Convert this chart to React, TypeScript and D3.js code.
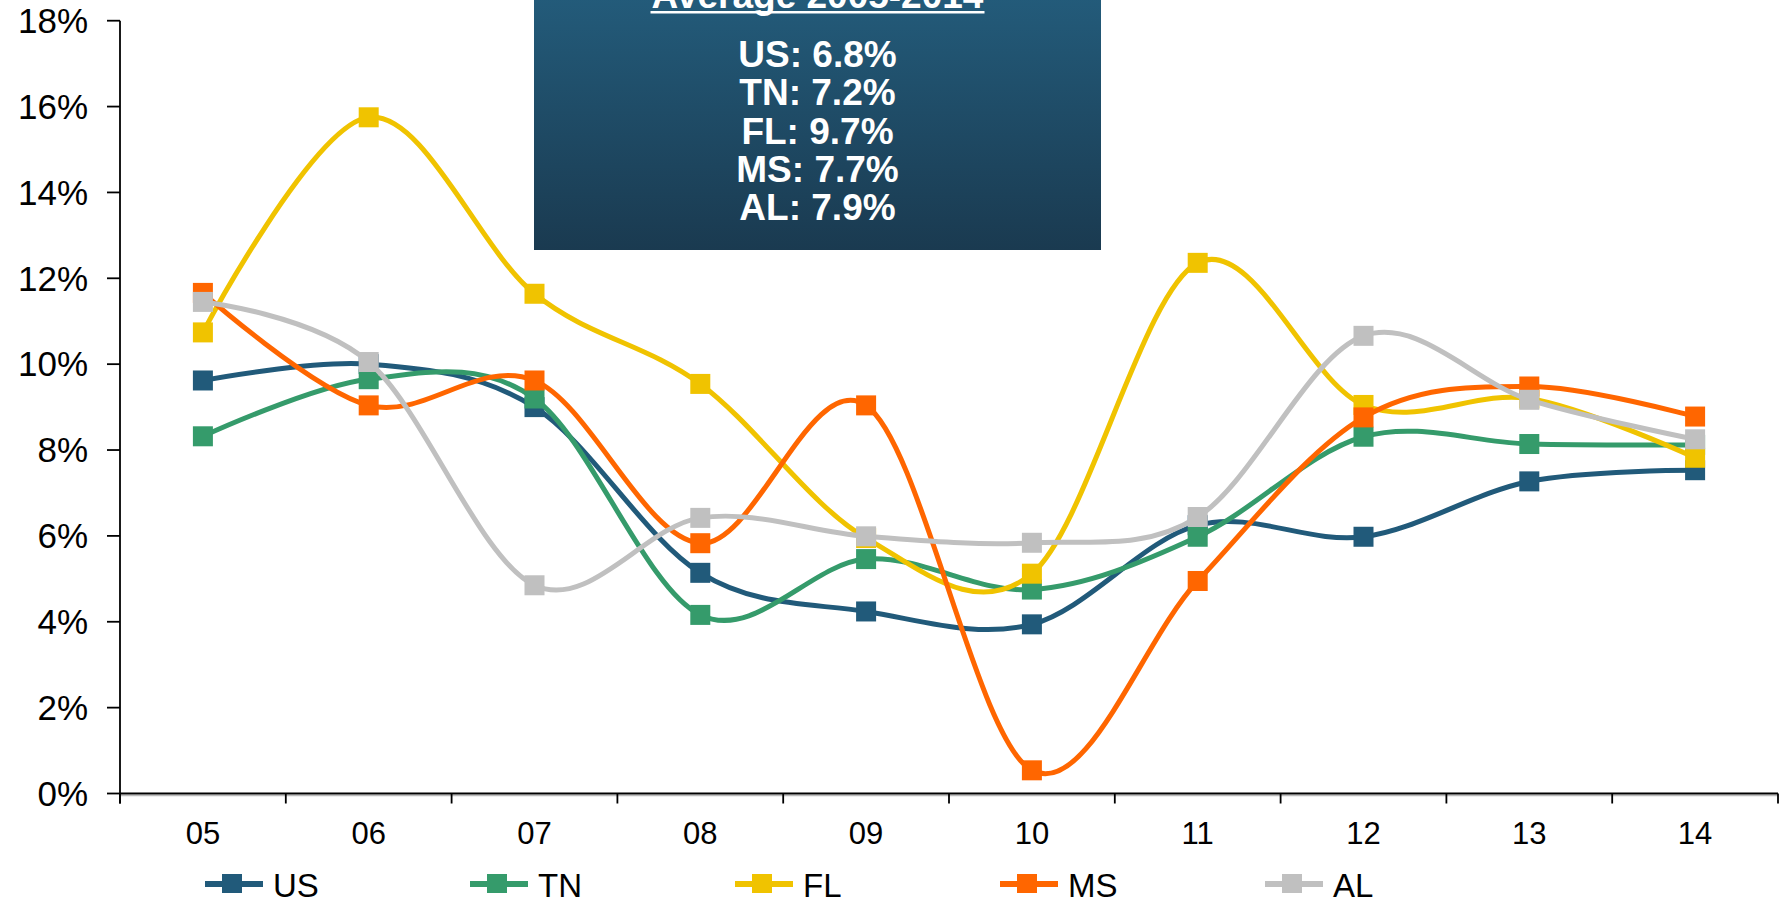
import React from 'react';
import * as d3 from 'd3';

const categories = ['05', '06', '07', '08', '09', '10', '11', '12', '13', '14'];
const US = [9.62, 10.0, 9.0, 5.14, 4.24, 3.94, 6.25, 5.98, 7.27, 7.53];
const TN = [8.32, 9.65, 9.2, 4.16, 5.46, 4.75, 5.98, 8.31, 8.14, 8.12];
const FL = [10.74, 15.75, 11.64, 9.54, 5.95, 5.12, 12.36, 9.05, 9.2, 7.82];
const MS = [11.66, 9.04, 9.62, 5.83, 9.04, 0.54, 4.95, 8.76, 9.48, 8.78];
const AL = [11.45, 10.05, 4.85, 6.42, 5.99, 5.84, 6.44, 10.66, 9.17, 8.25];
const yTicks = [0, 2, 4, 6, 8, 10, 12, 14, 16, 18];
const seriesNames = ['US', 'TN', 'FL', 'MS', 'AL'];
const seriesColors = ['#215a7a', '#359b6b', '#f0c300', '#ff6600', '#c0c0c0'];
const averageTitle = 'Average 2005-2014';
const averageLines = ['US: 6.8%', 'TN: 7.2%', 'FL: 9.7%', 'MS: 7.7%', 'AL: 7.9%'];

const FONT = '"Liberation Sans", Arial, Helvetica, sans-serif';

export default function App() {
  const W = 1785;
  const H = 904;
  const x = d3.scaleBand<string>().domain(categories).range([120, 1778]);
  const y = d3.scaleLinear().domain([0, 18]).range([793.5, 20.7]);
  const cx = (c: string) => (x(c) as number) + x.bandwidth() / 2;
  const allSeries = [US, TN, FL, MS, AL];
  const line = d3
    .line<number>()
    .x((_, i) => cx(categories[i]))
    .y((d) => y(d))
    .curve(d3.curveCardinal.tension(0));

  const boxX = 534;
  const boxW = 567;
  const boxCx = boxX + boxW / 2;
  const legendStart = 273;
  const legendStep = 265;
  const legendY = 884;

  return (
    <svg width={W} height={H} style={{ position: 'absolute', left: 0, top: 0, background: '#fff' }}>
      <defs>
        <linearGradient id="boxGrad" x1="0" y1="0" x2="0" y2="1">
          <stop offset="0%" stopColor="#235b7a" />
          <stop offset="100%" stopColor="#1a3a50" />
        </linearGradient>
      </defs>
      <rect x={0} y={0} width={W} height={H} fill="#fff" />

      {/* Axes */}
      <line x1={120} x2={1778} y1={795.5} y2={795.5} stroke="#bbb" strokeWidth={1.5} />
      <line x1={120} x2={1778} y1={y(0)} y2={y(0)} stroke="#000" strokeWidth={2} />
      <line x1={120} x2={120} y1={y(18)} y2={y(0) + 10} stroke="#000" strokeWidth={1.8} />
      {yTicks.map((t) => (
        <g key={t}>
          <line x1={107} x2={120} y1={y(t)} y2={y(t)} stroke="#000" strokeWidth={1.8} />
          <text x={88} y={y(t) + 12.3} textAnchor="end" fontFamily={FONT} fontSize={35} fill="#000">
            {t}%
          </text>
        </g>
      ))}
      {categories.map((c, i) => (
        <g key={c}>
          <line
            x1={x(c) as number}
            x2={x(c) as number}
            y1={y(0)}
            y2={y(0) + 10}
            stroke="#000"
            strokeWidth={1.8}
          />
          {i === categories.length - 1 && (
            <line
              x1={(x(c) as number) + x.bandwidth()}
              x2={(x(c) as number) + x.bandwidth()}
              y1={y(0)}
              y2={y(0) + 10}
              stroke="#000"
              strokeWidth={1.8}
            />
          )}
          <text x={cx(c)} y={844} textAnchor="middle" fontFamily={FONT} fontSize={31} fill="#000">
            {c}
          </text>
        </g>
      ))}

      {/* Average box */}
      <rect x={boxX} y={-2} width={boxW} height={252} fill="url(#boxGrad)" />
      <text x={boxCx} y={8} textAnchor="middle" fontFamily={FONT} fontSize={37} fontWeight="bold" fill="#fff">
        {averageTitle}
      </text>
      <line x1={boxCx - 167} x2={boxCx + 167} y1={12.3} y2={12.3} stroke="#fff" strokeWidth={2.6} />
      {averageLines.map((t, i) => (
        <text
          key={t}
          x={boxCx}
          y={67 + i * 38.3}
          textAnchor="middle"
          fontFamily={FONT}
          fontSize={37}
          fontWeight="bold"
          fill="#fff"
        >
          {t}
        </text>
      ))}

      {/* Series */}
      {allSeries.map((s, si) => (
        <g key={seriesNames[si]}>
          <path d={line(s) as string} fill="none" stroke={seriesColors[si]} strokeWidth={5} strokeLinejoin="round" />
          {s.map((v, i) => (
            <rect
              key={i}
              x={cx(categories[i]) - 10}
              y={y(v) - 10}
              width={20}
              height={20}
              fill={seriesColors[si]}
            />
          ))}
        </g>
      ))}

      {/* Legend */}
      {seriesNames.map((n, i) => {
        const tx = legendStart + i * legendStep;
        return (
          <g key={n}>
            <line x1={tx - 68} x2={tx - 10} y1={legendY} y2={legendY} stroke={seriesColors[i]} strokeWidth={6} />
            <rect x={tx - 51} y={legendY - 10} width={20} height={19} fill={seriesColors[i]} />
            <text x={tx} y={897} fontFamily={FONT} fontSize={33} fill="#000">
              {n}
            </text>
          </g>
        );
      })}
    </svg>
  );
}
